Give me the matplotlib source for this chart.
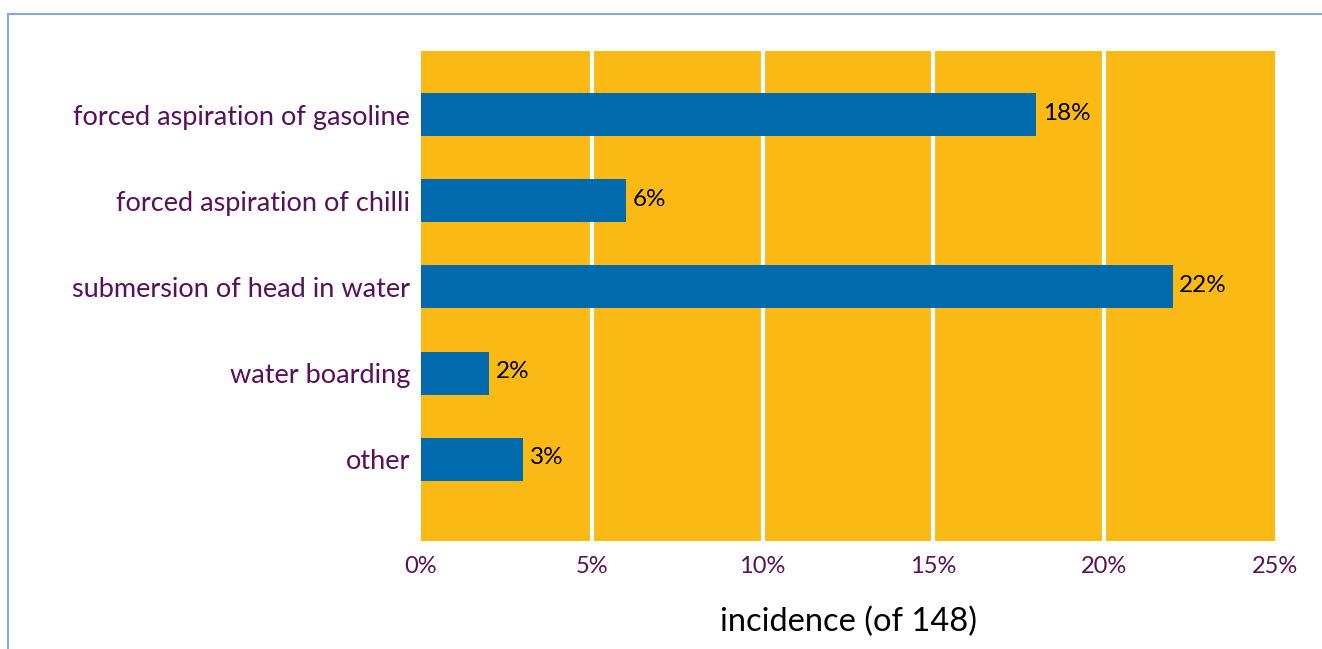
import numpy as np
import matplotlib
matplotlib.use("Agg")
import matplotlib.pyplot as plt
from matplotlib.lines import Line2D

categories = ['other', 'water boarding', 'submersion of head in water',
              'forced aspiration of chilli', 'forced aspiration of gasoline']
values = [3, 2, 22, 6, 18]
xticks = [0, 5, 10, 15, 20, 25]

ORANGE = '#FBB915'
BLUE = '#006AAD'
PURPLE = '#5A0E5E'

plt.rcParams['font.family'] = ['Lato', 'DejaVu Sans']

fig = plt.figure(figsize=(13.22, 6.49), dpi=100)
ax = fig.add_axes([421 / 1322, 1 - 541 / 649, 854 / 1322, 490 / 649])
ax.set_facecolor(ORANGE)

y = np.arange(len(categories))
ax.barh(y, values, height=0.5, color=BLUE, zorder=3)
for yi, v in zip(y, values):
    ax.text(v + 0.2, yi + 0.02, f'{v}%', va='center', ha='left',
            fontsize=17.5, color='black', zorder=4)

ax.set_xlim(0, 25)
ax.set_ylim(-0.95, 4.74)
ax.set_xticks(xticks)
ax.set_xticklabels([f'{t}%' for t in xticks], color=PURPLE, fontsize=17)
ax.set_yticks(y)
ax.set_yticklabels(categories, color=PURPLE, fontsize=19.5)
ax.tick_params(axis='both', length=0)
ax.tick_params(axis='x', pad=11)
ax.tick_params(axis='y', pad=8)
for t in xticks[1:-1]:
    ax.axvline(t, color='white', lw=3, zorder=2)
for s in ax.spines.values():
    s.set_visible(False)
ax.set_xlabel('incidence (of 148)', fontsize=23.5, color='black', labelpad=21)

# outer frame lines (top and left)
fig.add_artist(Line2D([8 / 1322, 1], [1 - 14 / 649, 1 - 14 / 649],
                      color='#85A9D6', lw=1.5, transform=fig.transFigure))
fig.add_artist(Line2D([8 / 1322, 8 / 1322], [0, 1 - 14 / 649],
                      color='#85A9D6', lw=1.5, transform=fig.transFigure))

fig.savefig('out.png', dpi=100)
